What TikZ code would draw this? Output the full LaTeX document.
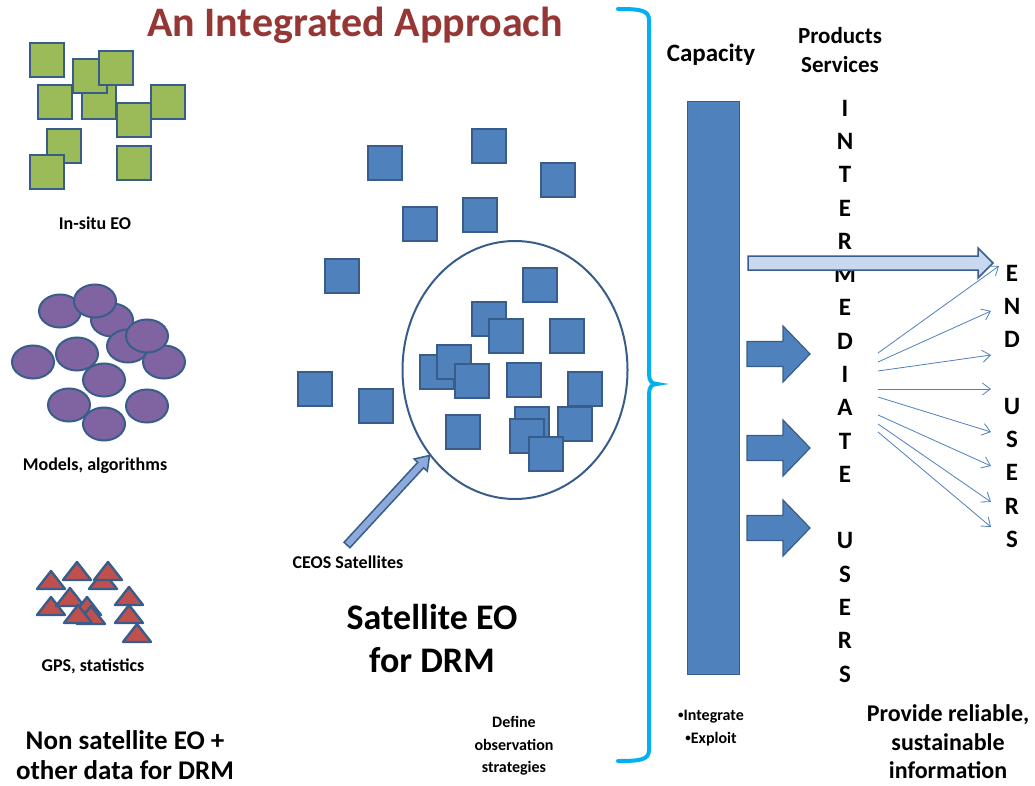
\documentclass[tikz,border=0pt]{standalone}
\usepackage{fontspec}
\setmainfont{Carlito}
\usetikzlibrary{arrows.meta,calc,shapes.geometric}
\definecolor{edge}{HTML}{385D8A}
\definecolor{sqgreen}{HTML}{9BBB59}
\definecolor{purp}{HTML}{8064A2}
\definecolor{trired}{HTML}{C0504D}
\definecolor{sqblue}{HTML}{4F81BD}
\definecolor{bracecol}{HTML}{00B0F0}
\definecolor{titlered}{HTML}{953735}
\definecolor{lightarrow}{HTML}{C9D8EE}
\definecolor{ceosfill}{HTML}{8EAADB}
\newcommand{\smallbul}{{\fontsize{11}{11}\selectfont\raisebox{1.5pt}{\textbullet}}}
\begin{document}
\begin{tikzpicture}[x=1pt,y=-1pt,
  gsq/.style={rectangle,draw=edge,fill=sqgreen,line width=2pt,minimum size=34pt,inner sep=0pt},
  bsq/.style={rectangle,draw=edge,fill=sqblue,line width=2pt,minimum size=34pt,inner sep=0pt},
  pel/.style={ellipse,draw=edge,fill=purp,line width=2pt,minimum width=42pt,minimum height=33pt,inner sep=0pt},
  trist/.style={draw=edge,fill=trired,line width=2.4pt,line join=round},
  lbl/.style={font=\bfseries\fontsize{18}{22}\selectfont,inner sep=0pt,align=center},
  letter/.style={font=\bfseries\fontsize{25}{28}\selectfont,inner sep=0pt},
  fan/.style={draw=sqblue,line width=0.8pt,-{Straight Barb[length=8pt,width=12pt]}},
  blockarr/.style={draw=edge,fill=sqblue,line width=1.2pt},
]
\useasboundingbox (0,0) rectangle (1035,786);
\fill[white] (0,0) rectangle (1035,786);

% title
\node[font=\bfseries\fontsize{42}{50}\selectfont,text=titlered,inner sep=0pt] (title) at (355,25) {An Integrated Approach};

% green squares (in-situ EO)
\foreach \x/\y [count=\i] in {47/60,99/102,90/76,116/68,55/102,168/102,134/120,64/146,47/172,134/163}
  \node[gsq] (g\i) at (\x,\y) {};
\node[lbl] (insitu) at (95,223) {In-situ EO};

% purple ellipses (models)
\foreach \x/\y [count=\i] in {60/311,112/320,95/301,128/346,164/362,147/336,33/362,77/354,104/380,69/405,147/406,104/424}
  \node[pel] (m\i) at (\x,\y) {};
\node[lbl] (models) at (95,466) {Models, algorithms};

% red triangles (GPS)
\foreach \x/\y in {51/571,77/562,103/571,108/562,51/597,70/588,87/597,91/606,78/605,129/587,129/605,137/624}
  \draw[trist] (\x,\y) -- ({\x-14},{\y+18}) -- ({\x+14},{\y+18}) -- cycle;
\node[lbl] (gps) at (93,666) {GPS, statistics};

\node[font=\bfseries\fontsize{27}{30}\selectfont,align=center,inner sep=0pt] (nonsat) at (125,755) {Non satellite EO +\\other data for DRM};

% satellite ellipse and squares
\node[ellipse,draw=edge,line width=2pt,minimum width=225pt,minimum height=258pt,inner sep=0pt] (ceosell) at (515,370) {};
\foreach \x/\y [count=\i] in {385/163,489/146,558/180,420/224,480/215,342/276,315/389,376/406,540/285,489/319,506/336,567/336,437/372,454/362,472/381,524/380,585/389,463/432,532/424,527/436,575/424,546/454}
  \node[bsq] (s\i) at (\x,\y) {};

% CEOS arrow
\node[lbl] (ceos) at (348,562) {CEOS Satellites};
\coordinate (cA) at (347,545);
\coordinate (cB) at (ceosell.-135);
\coordinate (cH) at ($(cB)!13pt!(cA)$);
\draw[draw=edge,fill=ceosfill,line width=1.5pt,line join=miter]
  ($(cA)!4pt!90:(cB)$) -- ($(cH)!4pt!90:(cB)$) -- ($(cH)!9pt!90:(cB)$) -- (cB)
  -- ($(cH)!9pt!-90:(cB)$) -- ($(cH)!4pt!-90:(cB)$) -- ($(cA)!4pt!-90:(cB)$) -- cycle;

\node[font=\bfseries\fontsize{36}{43}\selectfont,align=center,inner sep=0pt] (sateo) at (432,638) {Satellite EO\\for DRM};
\node[font=\bfseries\fontsize{16}{22.5}\selectfont,align=center,inner sep=0pt] (define) at (514,746) {Define\\observation\\strategies};

% brace
\draw[bracecol,line width=4pt,line cap=round]
  (618,9) .. controls (640,9) and (649,10) .. (649,20) -- (649,374)
  .. controls (649,381) and (652,384) .. (657,384)
  .. controls (652,384) and (649,387) .. (649,394) -- (649,750)
  .. controls (649,760) and (640,761) .. (618,761);

% capacity
\node[font=\bfseries\fontsize{25}{30}\selectfont,inner sep=0pt] (capacity) at (711,55) {Capacity};
\node[rectangle,draw=edge,fill=sqblue,line width=1.5pt,minimum width=52pt,minimum height=573pt,inner sep=0pt] (bar) at (713.5,388) {};
\node[font=\bfseries\fontsize{16}{23}\selectfont,align=center,inner sep=0pt] (integ) at (711,728) {\smallbul Integrate\\\smallbul Exploit};

\node[font=\bfseries\fontsize{23}{29}\selectfont,align=center,inner sep=0pt] (products) at (840,50) {Products\\Services};

% letters
\foreach \l [count=\k from 0] in {I,N,T,E,R,M,E,D,I,A,T,E}
  \node[letter] (im\k) at (845,{108+33.3*\k}) {\l};
\foreach \l [count=\k from 13] in {U,S,E,R,S}
  \node[letter] (im\k) at (845,{108+33.3*\k}) {\l};
\foreach \l [count=\k from 0] in {E,N,D}
  \node[letter] (eu\k) at (1012,{273+33.3*\k}) {\l};
\foreach \l [count=\k from 4] in {U,S,E,R,S}
  \node[letter] (eu\k) at (1012,{273+33.3*\k}) {\l};

% big light arrow
\draw[draw=edge,fill=lightarrow,line width=1.5pt]
  (748,256) -- (978,256) -- (978,248) -- (993,263) -- (978,278) -- (978,270) -- (748,270) -- cycle;

% block arrows
\foreach \y in {354,448,528}
  \draw[blockarr] (747,{\y-12.5}) -- (783,{\y-12.5}) -- (783,{\y-28}) -- (810,\y)
    -- (783,{\y+28}) -- (783,{\y+12.5}) -- (747,{\y+12.5}) -- cycle;

% fan arrows
\foreach \ys/\xe/\ye [count=\i] in {353/999/266,362/991/311,371/991/355,389/991/389,397/991/432,415/991/466,424/991/502,432/991/527}{
  \coordinate (fs\i) at (878,\ys);
  \coordinate (fe\i) at (\xe,\ye);
  \draw[fan] (fs\i) -- (fe\i);
}

\node[font=\bfseries\fontsize{24}{28.5}\selectfont,align=center,inner sep=0pt] (provide) at (948,742) {Provide reliable,\\sustainable\\information};
\end{tikzpicture}
\end{document}
